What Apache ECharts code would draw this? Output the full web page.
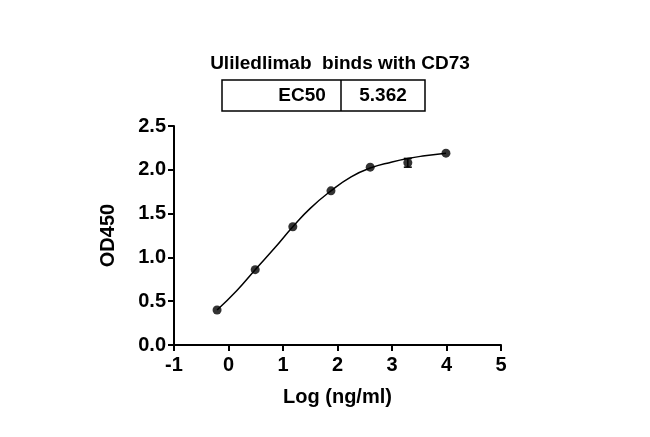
<!DOCTYPE html>
<html><head><meta charset="utf-8">
<script src="https://cdn.jsdelivr.net/npm/echarts@6/dist/echarts.min.js"></script>
<style>html,body{margin:0;background:#fff}#c{width:650px;height:437px}</style></head>
<body><div id="c"></div>
<script>
var pointsX=[-0.21,0.49,1.18,1.88,2.6,3.29,3.99];
var pointsY=[0.40,0.86,1.35,1.76,2.03,2.08,2.19];
var errY=[0,0,0,0,0,0.05,0];
var curveX=[-0.21,0.15,0.49,0.85,1.18,1.5,1.88,2.25,2.6,3.0,3.29,3.6,3.99];
var curveY=[0.40,0.62,0.86,1.11,1.35,1.56,1.76,1.92,2.02,2.09,2.13,2.16,2.19];
var xTicks=[-1,0,1,2,3,4,5];
var ec50Label='EC50', ec50Value='5.362';
var F='"Liberation Sans", Arial, sans-serif';
var chart=echarts.init(document.getElementById('c'));
chart.setOption({
  animation:false,
  title:{text:'Uliledlimab  binds with CD73',left:335,top:49,textAlign:'center',
    textStyle:{fontFamily:F,fontSize:19,fontWeight:'bold',color:'#000'}},
  graphic:[
    {type:'rect',shape:{x:222,y:80,width:203,height:31},style:{fill:'#fff',stroke:'#000',lineWidth:1.5}},
    {type:'line',shape:{x1:341,y1:80,x2:341,y2:111},style:{stroke:'#000',lineWidth:1.5}},
    {type:'text',x:302,y:96,style:{text:ec50Label,font:'bold 19px '+F,fill:'#000',align:'center',verticalAlign:'middle'}},
    {type:'text',x:383,y:96,style:{text:ec50Value,font:'bold 19px '+F,fill:'#000',align:'center',verticalAlign:'middle'}}
  ],
  grid:{left:174,right:149,top:126,bottom:92},
  xAxis:{type:'value',min:-1,max:5,interval:1,name:'Log (ng/ml)',nameLocation:'middle',nameGap:42,
    nameTextStyle:{fontFamily:F,fontSize:20,fontWeight:'bold',color:'#000'},
    axisLine:{onZero:false,lineStyle:{color:'#000',width:2}},axisTick:{length:6,lineStyle:{color:'#000',width:2}},
    axisLabel:{fontFamily:F,fontSize:20,fontWeight:'bold',color:'#000',margin:10},splitLine:{show:false}},
  yAxis:{type:'value',min:0,max:2.5,interval:0.5,name:'OD450',nameLocation:'middle',nameGap:56,
    nameTextStyle:{fontFamily:F,fontSize:20,fontWeight:'bold',color:'#000'},
    axisLine:{show:true,onZero:false,lineStyle:{color:'#000',width:2}},axisTick:{show:true,length:6,lineStyle:{color:'#000',width:2}},
    axisLabel:{fontFamily:F,fontSize:20,fontWeight:'bold',color:'#000',margin:8,formatter:function(v){return v.toFixed(1);}},splitLine:{show:false}},
  series:[
    {type:'line',smooth:true,symbol:'none',data:curveX.map(function(x,i){return [x,curveY[i]];}),lineStyle:{color:'#000',width:1.5}},
    {type:'scatter',symbolSize:9,itemStyle:{color:'#000'},data:pointsX.map(function(x,i){return [x,pointsY[i]];})},
    {type:'custom',data:pointsX.map(function(x,i){return [x,pointsY[i]-errY[i],pointsY[i]+errY[i]];}),
     renderItem:function(p,api){
       var lo=api.coord([api.value(0),api.value(1)]),hi=api.coord([api.value(0),api.value(2)]);
       if(Math.abs(lo[1]-hi[1])<1)return null;
       var s={stroke:'#000',lineWidth:1.5};
       return {type:'group',children:[
         {type:'line',shape:{x1:lo[0],y1:lo[1],x2:hi[0],y2:hi[1]},style:s},
         {type:'line',shape:{x1:lo[0]-4,y1:lo[1],x2:lo[0]+4,y2:lo[1]},style:s},
         {type:'line',shape:{x1:hi[0]-4,y1:hi[1],x2:hi[0]+4,y2:hi[1]},style:s}]};
     }}
  ]
});
</script></body></html>
